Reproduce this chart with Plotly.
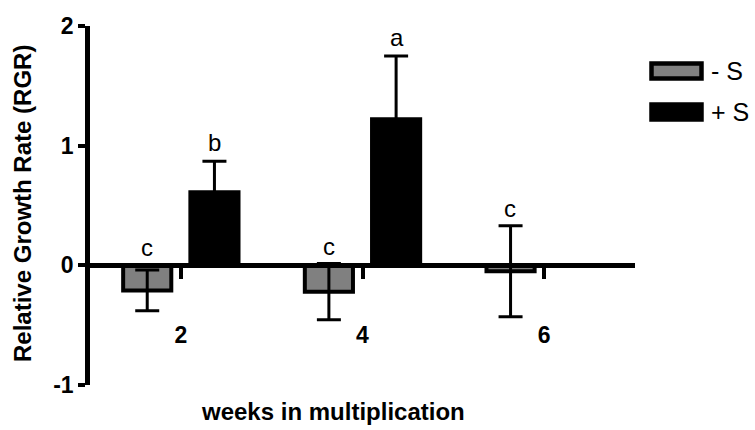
import plotly.graph_objects as go

# ---- data ----
weeks = ["2", "4", "6"]
minus_s = [-0.21, -0.22, -0.05]
minus_s_err = [0.17, 0.235, 0.38]
plus_s = [0.61, 1.22, None]
plus_s_err = [0.26, 0.53, None]
letters_minus = ["c", "c", "c"]
letters_plus = ["b", "a", ""]
y_ticks = [-1, 0, 1, 2]
series_names = ["- S", "+ S"]

FONT = "Liberation Sans, Arial, sans-serif"
W, H = 755, 430
L, R, T, B = 90, 120, 26, 45
PW, PH = W - L - R, H - T - B


def px(x):
    return (x - L) / PW


def py(y):
    return (H - B - y) / PH


fig = go.Figure()
fig.add_trace(go.Bar(
    x=weeks, y=minus_s, name=series_names[0],
    marker=dict(color="#808080", line=dict(color="black", width=4)),
    error_y=dict(type="data", array=minus_s_err, color="black",
                 thickness=3, width=12),
    showlegend=False,
))
fig.add_trace(go.Bar(
    x=weeks, y=plus_s, name=series_names[1],
    marker=dict(color="black", line=dict(color="black", width=4)),
    error_y=dict(type="data", array=plus_s_err, color="black",
                 thickness=3, width=12),
    showlegend=False,
))

annotations = []
# significance letters
for i, wk in enumerate(weeks):
    top = max(minus_s[i] + minus_s_err[i], 0)
    annotations.append(dict(x=i, y=top, xref="x", yref="y", text=letters_minus[i],
                            showarrow=False, xshift=-34, yshift=2, yanchor="bottom",
                            font=dict(family=FONT, size=24, color="black")))
    if plus_s[i] is not None and letters_plus[i]:
        annotations.append(dict(x=i, y=plus_s[i] + plus_s_err[i], xref="x", yref="y",
                                text=letters_plus[i], showarrow=False, xshift=34,
                                yshift=3, yanchor="bottom",
                                font=dict(family=FONT, size=24, color="black")))

# axis titles
annotations.append(dict(xref="paper", yref="paper", x=px(23), y=py(204),
                        text="Relative Growth Rate (RGR)", textangle=-90,
                        showarrow=False, xanchor="center", yanchor="middle",
                        font=dict(family=FONT, size=24, color="black", weight="bold")))
annotations.append(dict(xref="paper", yref="paper", x=px(333), y=py(411),
                        text="weeks in multiplication",
                        showarrow=False, xanchor="center", yanchor="middle",
                        font=dict(family=FONT, size=24, color="black", weight="bold")))

# legend (drawn manually to match wide swatches)
shapes = []
legend_fill = ["#808080", "black"]
legend_y = [71, 112]
for name, fill, ly in zip(series_names, legend_fill, legend_y):
    shapes.append(dict(type="rect", xref="paper", yref="paper",
                       x0=px(651.5), x1=px(701.5), y0=py(ly - 7.5), y1=py(ly + 7.5),
                       fillcolor=fill, line=dict(color="black", width=4.5)))
    annotations.append(dict(xref="paper", yref="paper", x=px(709), y=py(ly),
                            text=name, showarrow=False, xanchor="left", yanchor="middle",
                            font=dict(family=FONT, size=25, color="black")))

fig.update_layout(
    width=W, height=H,
    margin=dict(l=L, r=R, t=T, b=B, autoexpand=False),
    paper_bgcolor="white", plot_bgcolor="white",
    barmode="group", bargap=0.26, bargroupgap=0.284,
    annotations=annotations, shapes=shapes,
    showlegend=False,
    xaxis=dict(
        type="category", range=[-0.5, 2.5],
        anchor="free", position=1 / 3,
        showline=True, linecolor="black", linewidth=4.5,
        ticks="outside", ticklen=11, tickwidth=3.5, tickcolor="black",
        ticklabelstandoff=36,
        tickfont=dict(family=FONT, size=23, color="black", weight="bold"),
        showgrid=False, zeroline=False, fixedrange=True,
    ),
    yaxis=dict(
        range=[-1, 2], tickvals=y_ticks, ticktext=[str(v) for v in y_ticks],
        showline=True, linecolor="black", linewidth=4.5,
        ticks="outside", ticklen=7, tickwidth=4, tickcolor="black",
        tickfont=dict(family=FONT, size=23, color="black", weight="bold"),
        showgrid=False, zeroline=False, fixedrange=True,
    ),
)

fig.write_html("out.html",
               config={"displayModeBar": False},
               post_script="document.body.style.margin='0';document.body.style.overflow='hidden';")
